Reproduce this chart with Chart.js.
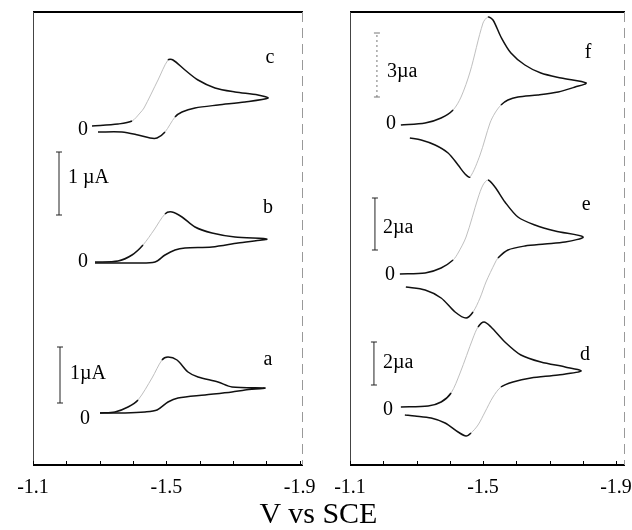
<!DOCTYPE html>
<html>
<head>
<meta charset="utf-8">
<script src="https://cdn.jsdelivr.net/npm/chart.js@4.4.0/dist/chart.umd.min.js"></script>
<style>
  body { margin: 0; background: #fff; width: 632px; height: 530px; position: relative; overflow: hidden; }
  canvas { position: absolute; top: 0; }
  #left { left: 0; }
  #right { left: 316px; }
  #xtitle { position: absolute; left: 0; width: 637px; top: 498px; text-align: center;
            font: 30px/30px "Liberation Serif", serif; color: #000; }
</style>
</head>
<body>
<canvas id="left" width="316" height="530"></canvas>
<canvas id="right" width="316" height="530"></canvas>
<div id="xtitle">V vs SCE</div>
<script>
// potential (V vs SCE) and current (display units, relative to each trace's zero)
const potC = [-1.277,-1.355,-1.397,-1.421,-1.433,-1.475,-1.505,-1.520,-1.556,-1.595,-1.646,-1.706,-1.775,-1.805,-1.736,-1.655,-1.586,-1.547,-1.526,-1.496,-1.472,-1.451,-1.415,-1.367,-1.295];
const curC = [0.3,0.5,0.8,1.6,2.1,4.9,6.9,6.9,5.9,4.9,4.1,3.7,3.4,3.1,2.7,2.4,2.1,1.7,1.2,-0.3,-0.9,-0.9,-0.6,-0.3,-0.3];

const potB = [-1.286,-1.355,-1.397,-1.430,-1.463,-1.496,-1.517,-1.547,-1.586,-1.637,-1.706,-1.802,-1.715,-1.637,-1.556,-1.526,-1.496,-1.466,-1.406,-1.286];
const curB = [0,0.1,0.7,1.7,3.2,4.8,5.0,4.5,3.5,2.9,2.5,2.3,1.9,1.5,1.4,1.2,0.7,0,-0.1,-0.1];

const potA = [-1.301,-1.346,-1.385,-1.415,-1.457,-1.487,-1.505,-1.532,-1.565,-1.595,-1.655,-1.697,-1.796,-1.736,-1.697,-1.616,-1.535,-1.505,-1.472,-1.436,-1.376,-1.301];
const curA = [0,0.1,0.6,1.3,3.5,5.3,5.6,5.3,4.1,3.6,3.1,2.6,2.5,2.3,2.1,1.8,1.5,1.1,0.3,0.1,0,0];

const potF = [-1.253,-1.326,-1.374,-1.410,-1.434,-1.461,-1.500,-1.515,-1.530,-1.554,-1.584,-1.626,-1.674,-1.735,-1.810,-1.777,-1.726,-1.665,-1.605,-1.575,-1.554,-1.536,-1.521,-1.491,-1.461,-1.446,-1.425,-1.395,-1.356,-1.314,-1.280];
const curF = [-0.1,0.1,0.6,1.4,2.7,5.2,10.1,10.7,10.4,8.7,7.1,5.9,5.1,4.6,4.1,3.7,3.2,2.9,2.7,2.4,1.9,1.1,0.1,-3.1,-5.3,-5.0,-4.1,-2.9,-2.1,-1.6,-1.4];

const potE = [-1.250,-1.326,-1.374,-1.410,-1.425,-1.449,-1.485,-1.500,-1.515,-1.536,-1.566,-1.605,-1.656,-1.717,-1.801,-1.747,-1.686,-1.626,-1.575,-1.545,-1.536,-1.509,-1.491,-1.470,-1.449,-1.416,-1.374,-1.326,-1.268];
const curE = [0,0.1,0.6,1.4,2.1,3.7,7.6,8.9,9.4,8.7,7.2,5.7,4.9,4.3,3.7,3.2,3.0,2.8,2.4,1.6,1.1,-0.8,-2.4,-3.8,-4.4,-3.8,-2.4,-1.6,-1.3];

const potD = [-1.253,-1.335,-1.374,-1.404,-1.431,-1.470,-1.485,-1.503,-1.524,-1.566,-1.614,-1.674,-1.747,-1.795,-1.726,-1.644,-1.590,-1.554,-1.530,-1.506,-1.485,-1.464,-1.449,-1.425,-1.386,-1.344,-1.295,-1.265];
const curD = [0,0.1,0.5,1.4,3.4,6.9,8.0,8.5,8.0,6.5,5.2,4.5,4.0,3.6,3.2,2.9,2.5,2.0,1.0,-0.5,-1.8,-2.6,-2.9,-2.5,-1.6,-1.1,-0.9,-0.8];

// zero level of each trace on the stacked axis
const zeroLeft = { c: 33.6, b: 20.3, a: 5.2 };
const zeroRight = { f: 34.1, e: 19.1, d: 5.8 };

// current scale bars: potential, low and high end
const barPotLeft = [-1.178, -1.181];
const barLowLeft = [25.0, 6.2];
const barHighLeft = [31.3, 11.8];
const barTextLeft = ['1 µA', '1µA'];

const barPotRight = [-1.181, -1.175, -1.172];
const barLowRight = [36.8, 21.5, 8.0];
const barHighRight = [43.2, 26.7, 12.3];
const barTextRight = ['3µa', '2µa', '2µa'];

const tickLabels = ['-1.1', '-1.5', '-1.9'];

const SERIF = '"Liberation Serif", "Times New Roman", serif';

// steep rising parts were faint on the recorder trace
const faint = c => {
  const dx = c.p1.x - c.p0.x, dy = c.p1.y - c.p0.y;
  return dx * dy < 0 && Math.abs(dy) > Math.abs(dx);
};

function trace(pot, cur, zero) {
  return {
    data: pot.map((v, i) => ({ x: v, y: zero + cur[i] })),
    borderColor: '#111', borderWidth: 1.5, pointRadius: 0, tension: 0.3,
    fill: false, clip: false,
    segment: {
      borderColor: c => faint(c) ? '#b8b8b8' : undefined,
      borderWidth: c => faint(c) ? 0.9 : undefined
    }
  };
}

function bar(v, lo, hi, dashed) {
  return {
    data: [{ x: v, y: lo }, { x: v, y: hi }],
    borderColor: dashed ? '#777' : '#222', borderWidth: 1,
    borderDash: dashed ? [2, 3] : [],
    pointStyle: 'line', pointRadius: 3, pointBorderWidth: 1,
    pointBorderColor: dashed ? '#777' : '#222', clip: false
  };
}

const framePlugin = {
  id: 'frame',
  afterDraw(chart, args, opts) {
    const { ctx, chartArea: a, scales: { x, y } } = chart;
    ctx.save();
    ctx.strokeStyle = '#000';
    ctx.lineWidth = 2;
    ctx.beginPath();
    ctx.moveTo(a.left, a.top); ctx.lineTo(a.right, a.top);
    ctx.moveTo(a.left, a.bottom); ctx.lineTo(a.right, a.bottom);
    ctx.stroke();
    ctx.lineWidth = 1;
    ctx.strokeStyle = '#444';
    ctx.beginPath();
    ctx.moveTo(a.left + 0.5, a.top); ctx.lineTo(a.left + 0.5, a.bottom);
    ctx.stroke();
    ctx.strokeStyle = '#999';
    ctx.setLineDash([10, 6]);
    ctx.beginPath();
    ctx.moveTo(a.right - 0.5, a.top); ctx.lineTo(a.right - 0.5, a.bottom);
    ctx.stroke();
    ctx.setLineDash([]);
    // small inward ticks
    ctx.strokeStyle = '#000';
    ctx.beginPath();
    x.ticks.forEach(t => {
      const px = Math.round(x.getPixelForValue(t.value)) + 0.5;
      ctx.moveTo(px, a.bottom); ctx.lineTo(px, a.bottom - 4);
    });
    ctx.stroke();
    // text
    ctx.fillStyle = '#000';
    ctx.font = '20px ' + SERIF;
    ctx.textBaseline = 'middle';
    opts.labels.forEach(l => {
      ctx.textAlign = l.align || 'center';
      ctx.fillText(l.text, x.getPixelForValue(l.v), y.getPixelForValue(l.y));
    });
    ctx.restore();
  }
};

function makeChart(id, datasets, labels, xMin, pad) {
  return new Chart(document.getElementById(id), {
    type: 'line',
    data: { datasets },
    options: {
      responsive: false, animation: false, devicePixelRatio: 1,
      layout: { padding: pad },
      plugins: { legend: { display: false }, tooltip: { enabled: false }, frame: { labels } },
      scales: {
        x: {
          type: 'linear', reverse: true, min: xMin, max: -1.1,
          grid: { display: false }, border: { display: false },
          ticks: {
            stepSize: 0.1, includeBounds: false, autoSkip: false, maxRotation: 0,
            padding: 3, color: '#000', font: { family: SERIF, size: 20 },
            callback: v => {
              const s = v.toFixed(1);
              return tickLabels.includes(s) ? s : '';
            }
          },
          afterFit: s => { s.height = 65; s.paddingLeft = 0; s.paddingRight = 0; }
        },
        y: { type: 'linear', min: 0, max: 45.3, display: false }
      }
    },
    plugins: [framePlugin]
  });
}

makeChart('left', [
  trace(potC, curC, zeroLeft.c),
  trace(potB, curB, zeroLeft.b),
  trace(potA, curA, zeroLeft.a),
  bar(barPotLeft[0], barLowLeft[0], barHighLeft[0], false),
  bar(barPotLeft[1], barLowLeft[1], barHighLeft[1], false)
], [
  { text: 'c', v: -1.811, y: 40.7 },
  { text: 'b', v: -1.805, y: 25.7 },
  { text: 'a', v: -1.805, y: 10.5 },
  { text: '0', v: -1.250, y: 33.5 },
  { text: '0', v: -1.250, y: 20.3 },
  { text: '0', v: -1.256, y: 4.6 },
  { text: barTextLeft[0], v: -1.205, y: 28.7, align: 'left' },
  { text: barTextLeft[1], v: -1.211, y: 9.1, align: 'left' }
], -1.91, { top: 12, left: 33, right: 13, bottom: 0 });

makeChart('right', [
  trace(potF, curF, zeroRight.f),
  trace(potE, curE, zeroRight.e),
  trace(potD, curD, zeroRight.d),
  bar(barPotRight[0], barLowRight[0], barHighRight[0], true),
  bar(barPotRight[1], barLowRight[1], barHighRight[1], false),
  bar(barPotRight[2], barLowRight[2], barHighRight[2], false)
], [
  { text: 'f', v: -1.816, y: 41.2 },
  { text: 'e', v: -1.810, y: 26.0 },
  { text: 'd', v: -1.807, y: 11.0 },
  { text: '0', v: -1.223, y: 34.1 },
  { text: '0', v: -1.220, y: 19.0 },
  { text: '0', v: -1.214, y: 5.5 },
  { text: barTextRight[0], v: -1.211, y: 39.3, align: 'left' },
  { text: barTextRight[1], v: -1.199, y: 23.7, align: 'left' },
  { text: barTextRight[2], v: -1.199, y: 10.2, align: 'left' }
], -1.927, { top: 12, left: 34, right: 7, bottom: 0 });
</script>
</body>
</html>
